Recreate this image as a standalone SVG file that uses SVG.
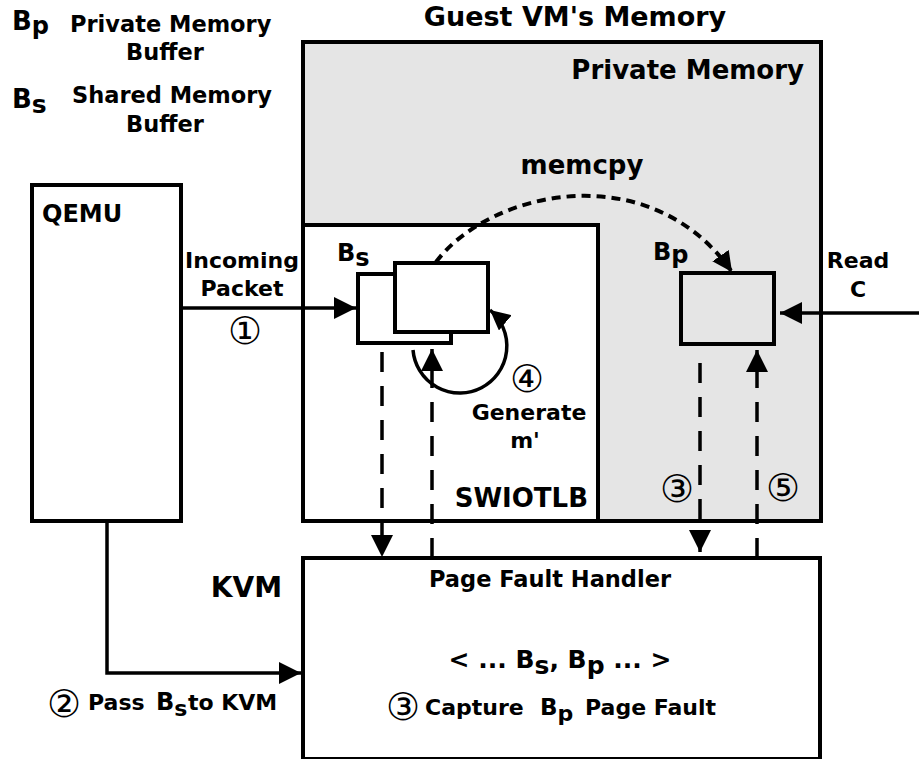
<svg xmlns="http://www.w3.org/2000/svg" width="919" height="759" viewBox="0 0 919 759">
<style>
text{font-family:"DejaVu Sans","Liberation Sans",sans-serif;font-weight:bold;fill:#000}
.n{font-weight:normal;font-size:38px}
.box{stroke:#000;stroke-width:4}
.ln{fill:none;stroke:#000;stroke-width:3.5}
.dash{stroke-dasharray:20 14}
.dot{stroke-dasharray:9 6;stroke-width:4}
.c{text-anchor:middle}
.e{text-anchor:end}
</style>
<defs>
<marker id="ah" markerUnits="userSpaceOnUse" markerWidth="24" markerHeight="24" refX="22" refY="11" orient="auto">
<path d="M0,0 L22,11 L0,22 z" fill="#000"/>
</marker>
<marker id="ahs" markerUnits="userSpaceOnUse" markerWidth="22" markerHeight="22" refX="20" refY="10" orient="auto">
<path d="M0,0 L20,10 L0,20 z" fill="#000"/>
</marker>
</defs>

<g id="legend">
<text x="12" y="30" font-size="26">B<tspan dy="4" font-size="24">p</tspan></text>
<text x="70" y="32" font-size="22.5">Private Memory</text>
<text x="165" y="60" font-size="22.5" class="c">Buffer</text>
<text x="12" y="108" font-size="26">B<tspan dy="5" font-size="25">s</tspan></text>
<text x="72" y="103" font-size="22.5">Shared Memory</text>
<text x="165" y="132" font-size="22.5" class="c">Buffer</text>
</g>

<g id="guest-memory">
<text x="575" y="26" font-size="27" class="c">Guest VM's Memory</text>
<rect x="303" y="42" width="518" height="479" fill="#e5e5e5" class="box"/>
<text x="804" y="79" font-size="26" class="e">Private Memory</text>
<text x="582" y="174" font-size="26" class="c">memcpy</text>
</g>

<g id="swiotlb">
<rect x="303" y="225" width="295" height="296" fill="#fff" class="box"/>
<text x="588" y="507" font-size="26" class="e">SWIOTLB</text>
</g>

<g id="qemu">
<rect x="32" y="185" width="149" height="336" fill="#fff" class="box"/>
<text x="42" y="222" font-size="24">QEMU</text>
</g>

<g id="kvm">
<rect x="303" y="558" width="517" height="201" fill="#fff" class="box"/>
<text x="282" y="597" font-size="28" class="e">KVM</text>
<text x="550" y="587" font-size="22.5" class="c">Page Fault Handler</text>
<text x="560" y="668" font-size="25" class="c">&lt; ... B<tspan dy="6">s</tspan><tspan dy="-6">, B</tspan><tspan dy="6">p</tspan><tspan dy="-6"> ... &gt;</tspan></text>
<text x="403" y="720" class="c n">③</text>
<text y="715" font-size="22"><tspan x="425">Capture</tspan><tspan x="540" font-size="23">B</tspan><tspan dy="6">p</tspan><tspan x="585" dy="-6">Page Fault</tspan></text>
</g>

<g id="bs-buffer">
<rect x="358" y="274" width="93" height="69" fill="#fff" class="box"/>
<rect x="395" y="263" width="93" height="69" fill="#fff" class="box"/>
<text x="337" y="261" font-size="24">B<tspan dy="5">s</tspan></text>
</g>

<g id="bp-buffer">
<rect x="681" y="273" width="93" height="71" fill="#e5e5e5" class="box"/>
<text x="653" y="260" font-size="24">B<tspan dy="3">p</tspan></text>
</g>

<g id="connectors">
<path d="M181,308 H356" class="ln" marker-end="url(#ah)"/>
<path d="M107,521 V673 H301" class="ln" marker-end="url(#ah)"/>
<path d="M382,352 V557" class="ln dash" marker-end="url(#ah)"/>
<path d="M432,558 V349" class="ln dash" marker-end="url(#ah)"/>
<path d="M413,350 A47,47 0 1 0 490,310" class="ln" marker-end="url(#ahs)"/>
<path d="M436,262 C490,190 650,155 732,272" class="ln dot" marker-end="url(#ahs)"/>
<path d="M919,313 H780" class="ln" marker-end="url(#ah)"/>
<path d="M700,363 V552" class="ln dash" marker-end="url(#ah)"/>
<path d="M757,558 V350" class="ln dash" marker-end="url(#ah)"/>
</g>

<g id="labels">
<text x="242" y="268" font-size="22" class="c">Incoming</text>
<text x="242" y="296" font-size="22" class="c">Packet</text>
<text x="245" y="344" class="c n">①</text>
<text x="858" y="268" font-size="22" class="c">Read</text>
<text x="858" y="297" font-size="22" class="c">C</text>
<text x="527" y="392" class="c n">④</text>
<text x="529" y="420" font-size="22" class="c">Generate</text>
<text x="525" y="448" font-size="22" class="c">m'</text>
<text x="677" y="502" class="c n">③</text>
<text x="783" y="501" class="c n">⑤</text>
<text x="64" y="717" class="c n">②</text>
<text y="710" font-size="22"><tspan x="88">Pass</tspan><tspan x="156" font-size="24">B</tspan><tspan dy="6">s</tspan><tspan x="188" dy="-6">to KVM</tspan></text>
</g>
</svg>
